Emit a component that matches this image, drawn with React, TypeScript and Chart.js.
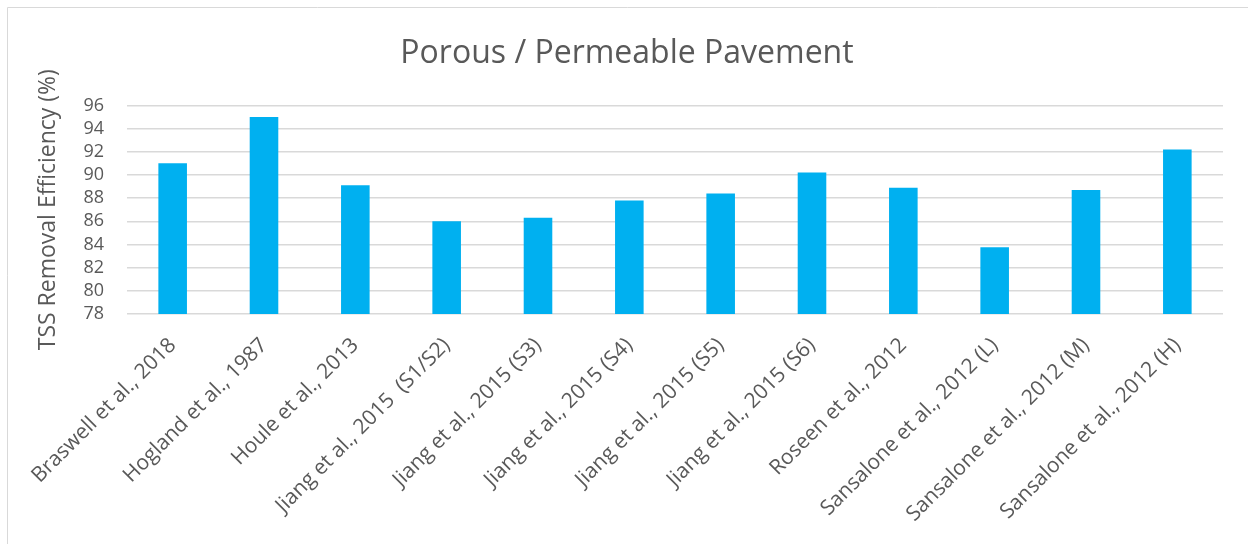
import React, { useEffect, useRef } from "react";
import { Chart, registerables } from "chart.js";

Chart.register(...registerables);

const chartTitle = "Porous / Permeable Pavement";
const yAxisTitle = "TSS Removal Efficiency (%)";

const categories = [
  "Braswell et al., 2018",
  "Hogland et al., 1987",
  "Houle et al., 2013",
  "Jiang et al., 2015  (S1/S2)",
  "Jiang et al., 2015 (S3)",
  "Jiang et al., 2015 (S4)",
  "Jiang et al., 2015 (S5)",
  "Jiang et al., 2015 (S6)",
  "Roseen et al., 2012",
  "Sansalone et al., 2012 (L)",
  "Sansalone et al., 2012 (M)",
  "Sansalone et al., 2012 (H)",
];

const tssRemoval = [91.0, 95.0, 89.1, 86.0, 86.3, 87.8, 88.4, 90.2, 88.9, 83.75, 88.7, 92.2];

const yTicks = [78, 80, 82, 84, 86, 88, 90, 92, 94, 96];

const TEXT = "#595959";
const GRID = "#d9d9d9";
const BAR = "#00B0F0";
const FONT = "'Open Sans', 'DejaVu Sans', sans-serif";

const framePlugin = {
  id: "frame",
  beforeDraw(chart: any) {
    const { ctx, width, height } = chart;
    ctx.save();
    ctx.strokeStyle = GRID;
    ctx.lineWidth = 1;
    ctx.beginPath();
    ctx.moveTo(7.5, height);
    ctx.lineTo(7.5, 7.5);
    ctx.lineTo(width, 7.5);
    ctx.stroke();
    ctx.restore();
  },
};

export default function App() {
  const ref = useRef<HTMLCanvasElement | null>(null);

  useEffect(() => {
    if (!ref.current) return;
    const chart = new Chart(ref.current, {
      type: "bar",
      data: {
        labels: categories,
        datasets: [
          {
            label: "TSS Removal Efficiency",
            data: tssRemoval,
            backgroundColor: BAR,
            borderWidth: 0,
            categoryPercentage: 1,
            barPercentage: 0.313,
          },
        ],
      },
      options: {
        animation: false,
        responsive: false,
        maintainAspectRatio: false,
        layout: { padding: { left: 31, right: 25, top: 0, bottom: 0 } },
        plugins: {
          legend: { display: false },
          tooltip: { enabled: false },
          title: {
            display: true,
            text: chartTitle,
            color: TEXT,
            font: { family: FONT, size: 32, weight: "normal" },
            padding: { top: 35, bottom: 32 },
          },
        },
        scales: {
          x: {
            grid: { display: false, drawTicks: false },
            border: { display: false },
            ticks: {
              color: TEXT,
              font: { family: FONT, size: 21 },
              minRotation: 45,
              maxRotation: 45,
              autoSkip: false,
              padding: 19,
            },
            afterFit(scale: any) {
              scale.height = 230;
            },
          },
          y: {
            min: yTicks[0],
            max: yTicks[yTicks.length - 1],
            grid: { color: GRID, lineWidth: 1.5, drawTicks: false },
            border: { display: false },
            ticks: {
              autoSkip: false,
              color: TEXT,
              font: { family: FONT, size: 18 },
              padding: 23,
            },
            afterBuildTicks(scale: any) {
              scale.ticks = yTicks.map((v) => ({ value: v }));
            },
            title: {
              display: true,
              text: yAxisTitle,
              color: TEXT,
              font: { family: FONT, size: 23 },
              padding: { top: 4, bottom: 0 },
            },
            afterFit(scale: any) {
              scale.width = 96;
            },
          },
        },
      },
      plugins: [framePlugin],
    });
    return () => chart.destroy();
  }, []);

  return (
    <div style={{ position: "fixed", left: 0, top: 0, width: 1248, height: 544, background: "#fff" }}>
      <canvas ref={ref} width={1248} height={544} style={{ width: 1248, height: 544, display: "block" }} />
    </div>
  );
}
